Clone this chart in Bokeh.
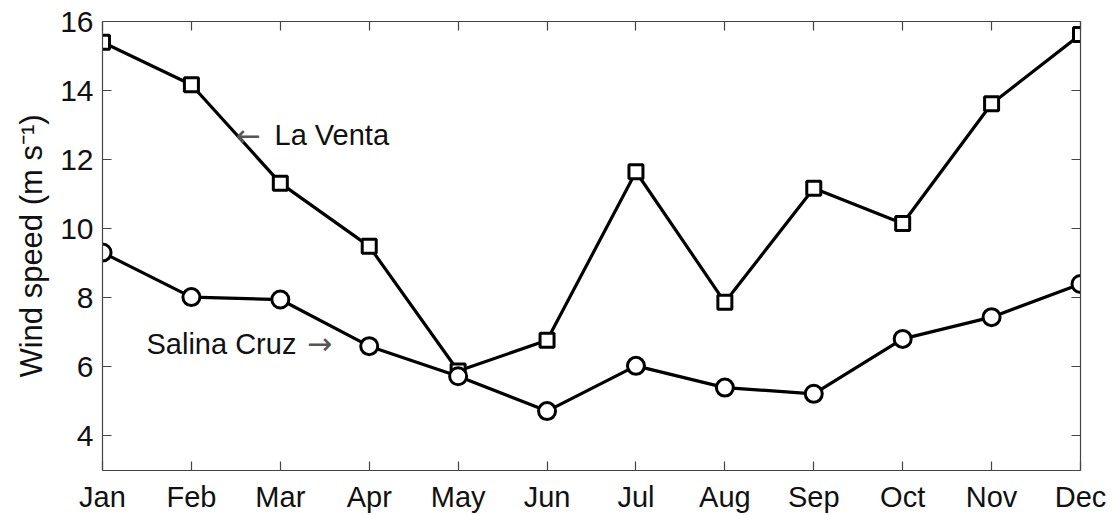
from bokeh.plotting import figure
from bokeh.models import Range1d, FixedTicker, LinearAxis, Label, CustomLabelingPolicy
from bokeh.embed import file_html
from bokeh.resources import INLINE

months = ["Jan", "Feb", "Mar", "Apr", "May", "Jun", "Jul", "Aug", "Sep", "Oct", "Nov", "Dec"]
month_idx = list(range(len(months)))
la_venta = [15.40, 14.17, 11.32, 9.49, 5.88, 6.77, 11.65, 7.87, 11.17, 10.15, 13.62, 15.62]
salina_cruz = [9.31, 8.02, 7.95, 6.60, 5.73, 4.72, 6.03, 5.40, 5.22, 6.81, 7.44, 8.40]
y_ticks = [4, 6, 8, 10, 12, 14, 16]

FONT = "Liberation Sans"
AXIS_COL = "#444444"
TEXT_COL = "#111111"

p = figure(width=1116, height=515, output_backend="svg", toolbar_location=None,
           x_range=Range1d(0, 11), y_range=Range1d(3, 16),
           min_border_left=102, min_border_right=36, min_border_top=21, min_border_bottom=45,
           x_axis_location=None, y_axis_location=None)
p.grid.visible = False
p.outline_line_color = None
p.background_fill_color = "white"
p.border_fill_color = "white"

hide_all = CustomLabelingPolicy(code="return new Set()")


def style_axis(ax, labels=True, size="30px", standoff=9):
    ax.axis_line_color = AXIS_COL
    ax.axis_line_width = 1.2
    ax.major_tick_line_color = AXIS_COL
    ax.major_tick_line_width = 1.2
    ax.major_tick_in = 9
    ax.major_tick_out = 0
    ax.minor_tick_line_color = None
    ax.major_label_text_font = FONT
    ax.major_label_text_color = TEXT_COL
    if labels:
        ax.major_label_text_font_size = size
        ax.major_label_standoff = standoff
    else:
        ax.major_label_text_font_size = "1px"
        ax.major_label_standoff = 0
        ax.major_label_policy = hide_all


xb = LinearAxis(ticker=FixedTicker(ticks=month_idx),
                major_label_overrides={i: m for i, m in zip(month_idx, months)})
style_axis(xb, True, "29px", 10)
p.add_layout(xb, "below")

xt = LinearAxis(ticker=FixedTicker(ticks=month_idx))
style_axis(xt, False)
p.add_layout(xt, "above")

yl = LinearAxis(ticker=FixedTicker(ticks=y_ticks), axis_label="Wind speed (m s⁻¹)")
style_axis(yl, True, "30px", 9)
yl.axis_label_text_font = FONT
yl.axis_label_text_font_size = "31px"
yl.axis_label_text_font_style = "normal"
yl.axis_label_text_color = TEXT_COL
yl.axis_label_standoff = 8
p.add_layout(yl, "left")

yr = LinearAxis(ticker=FixedTicker(ticks=y_ticks))
style_axis(yr, False)
p.add_layout(yr, "right")

# La Venta
p.line(month_idx, la_venta, line_color="black", line_width=3.2)
p.scatter(month_idx, la_venta, marker="square", size=14, line_width=3,
          line_color="black", fill_color="white")
# Salina Cruz
p.line(month_idx, salina_cruz, line_color="black", line_width=3.2)
p.scatter(month_idx, salina_cruz, marker="circle", size=17, line_width=3,
          line_color="black", fill_color="white")

for txt, x, y in [("La Venta", 1.935, 12.70), ("Salina Cruz", 0.495, 6.67)]:
    p.add_layout(Label(x=x, y=y, text=txt, text_font=FONT, text_font_size="29px",
                       text_color=TEXT_COL, text_baseline="alphabetic", text_align="left"))
for txt, x, y in [("←", 1.50, 12.70), ("→", 2.30, 6.67)]:
    p.add_layout(Label(x=x, y=y, text=txt, text_font="DejaVu Sans", text_font_size="30px",
                       text_color="#555555", text_baseline="alphabetic", text_align="left"))

open("out.html", "w").write(file_html(p, INLINE))
